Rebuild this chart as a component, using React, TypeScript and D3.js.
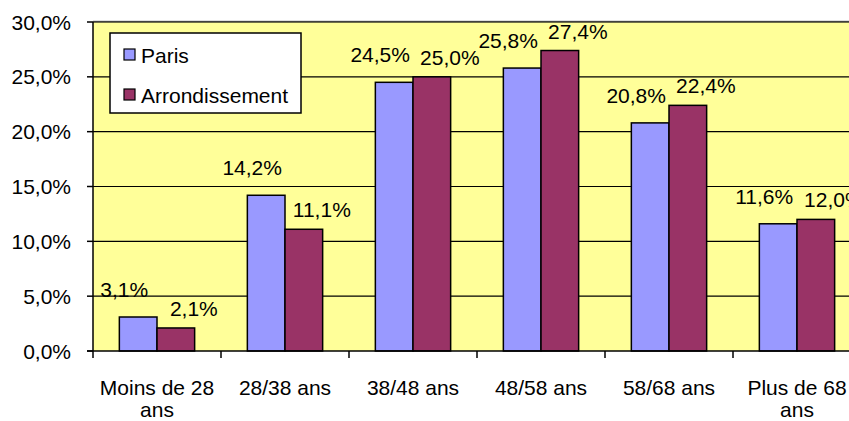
import React from "react"
import * as d3 from "d3"

const categories = ["Moins de 28 ans", "28/38 ans", "38/48 ans", "48/58 ans", "58/68 ans", "Plus de 68 ans"]
const tickLabels = [["Moins de 28", "ans"], ["28/38 ans"], ["38/48 ans"], ["48/58 ans"], ["58/68 ans"], ["Plus de 68", "ans"]]
const seriesNames = ["Paris", "Arrondissement"]
const parisValues = [3.1, 14.2, 24.5, 25.8, 20.8, 11.6]
const arrondValues = [2.1, 11.1, 25.0, 27.4, 22.4, 12.0]
const yTicks = [0, 5, 10, 15, 20, 25, 30]

const colors = ["#9999FF", "#993366"]
const font = "'Liberation Sans', Arial, sans-serif"
const fs = 21

const W = 849
const H = 421
const margin = { top: 22, left: 93, bottom: 70 }
const plotRight = 861

// label nudges per series (excel placed them a bit off the bar)
const labelDx = [-14, 18]
const labelDy = [-20, -12]

const fmt = (v: number) => d3.format(".1f")(v).replace(".", ",") + "%"

const App: React.FC = () => {
  const x0 = d3.scaleBand<string>().domain(categories).range([margin.left, plotRight]).padding(0)
  const x1 = d3.scaleBand<string>().domain(seriesNames).range([0, x0.bandwidth()]).paddingInner(0).paddingOuter(0.7)
  const y = d3.scaleLinear().domain([0, 30]).range([H - margin.bottom, margin.top])

  const series = [parisValues, arrondValues]
  const y0 = y(0)

  return (
    <svg width={W} height={H} style={{ position: "absolute", left: 0, top: 0, background: "#fff" }} fontFamily={font}>
      {/* plot area */}
      <rect x={margin.left} y={margin.top} width={plotRight - margin.left} height={y0 - margin.top} fill="#FFFF99" />
      <line x1={margin.left} x2={plotRight} y1={margin.top - 0.5} y2={margin.top - 0.5} stroke="#808080" strokeWidth={1.5} />

      {yTicks.slice(1).map(t => (
        <line key={"g" + t} x1={margin.left} x2={plotRight} y1={y(t)} y2={y(t)} stroke="#000" strokeWidth={1.2} />
      ))}

      {/* bars */}
      {series.map((vals, si) =>
        vals.map((v, i) => (
          <rect key={si + "-" + i}
            x={x0(categories[i])! + x1(seriesNames[si])!}
            y={y(v)}
            width={x1.bandwidth()}
            height={y0 - y(v)}
            fill={colors[si]} stroke="#000" strokeWidth={1.5} />
        ))
      )}

      {/* data labels */}
      {series.map((vals, si) =>
        vals.map((v, i) => (
          <text key={"l" + si + "-" + i}
            x={x0(categories[i])! + x1(seriesNames[si])! + x1.bandwidth() / 2 + labelDx[si]}
            y={y(v) + labelDy[si]}
            textAnchor="middle" fontSize={fs} fill="#000">{fmt(v)}</text>
        ))
      )}

      {/* axes */}
      <line x1={margin.left} x2={margin.left} y1={margin.top} y2={y0 + 7} stroke="#000" strokeWidth={1.5} />
      <line x1={margin.left - 6} x2={plotRight} y1={y0} y2={y0} stroke="#000" strokeWidth={1.5} />
      {yTicks.map(t => (
        <g key={"t" + t}>
          <line x1={margin.left - 6} x2={margin.left} y1={y(t)} y2={y(t)} stroke="#000" strokeWidth={1.5} />
          <text x={71} y={y(t)} dy="0.36em" textAnchor="end" fontSize={fs}>{fmt(t)}</text>
        </g>
      ))}
      {categories.map((c, i) => (
        <line key={"xt" + i} x1={x0(c)! + x0.bandwidth()} x2={x0(c)! + x0.bandwidth()} y1={y0} y2={y0 + 7} stroke="#000" strokeWidth={1.5} />
      ))}
      {categories.map((c, i) => (
        <text key={"xl" + i} x={x0(c)! + x0.bandwidth() / 2} y={395} textAnchor="middle" fontSize={fs}>
          {tickLabels[i].map((ln, k) => (
            <tspan key={k} x={x0(c)! + x0.bandwidth() / 2} dy={k === 0 ? 0 : 22}>{ln}</tspan>
          ))}
        </text>
      ))}

      {/* legend */}
      <rect x={110} y={33} width={191} height={80} fill="#fff" stroke="#000" strokeWidth={1.5} />
      {seriesNames.map((s, i) => (
        <g key={"lg" + i} transform={`translate(124, ${49 + i * 40})`}>
          <rect x={0} y={0} width={11} height={11} fill={colors[i]} stroke="#000" strokeWidth={1.2} />
          <text x={17} y={14} fontSize={fs}>{s}</text>
        </g>
      ))}
    </svg>
  )
}

export default App
